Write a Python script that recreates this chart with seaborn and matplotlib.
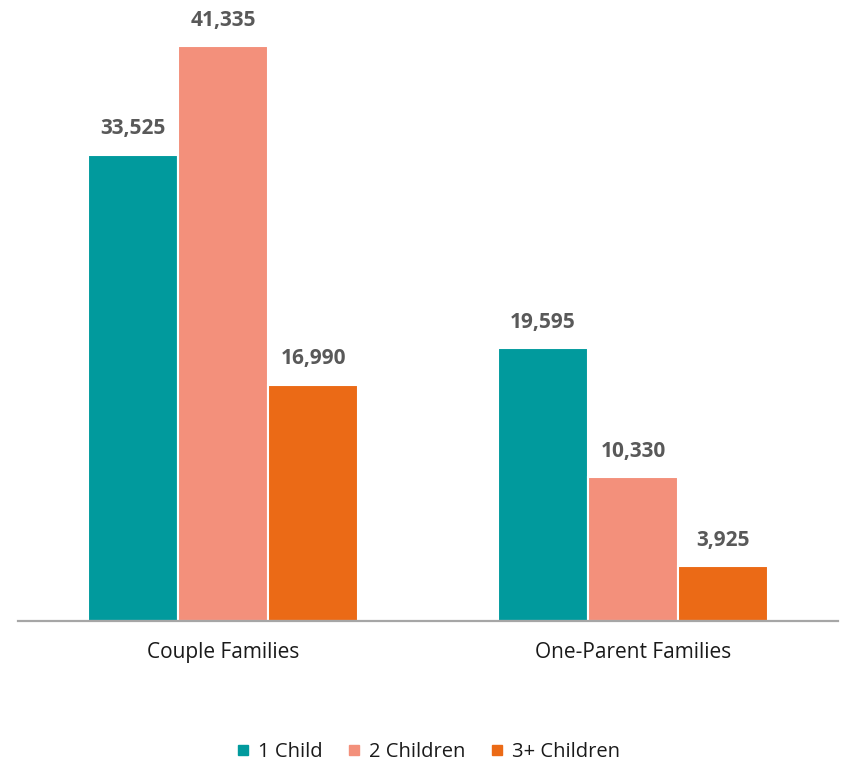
import matplotlib
matplotlib.use("Agg")
import matplotlib.pyplot as plt
import seaborn as sns
import pandas as pd
from matplotlib.lines import Line2D

categories = ["Couple Families", "One-Parent Families"]
series = ["1 Child", "2 Children", "3+ Children"]
one_child = [33525, 19595]
two_children = [41335, 10330]
three_plus = [16990, 3925]
colors = ["#019A9D", "#F3907B", "#EB6A16"]

rows = []
for s, vals in zip(series, [one_child, two_children, three_plus]):
    for c, v in zip(categories, vals):
        rows.append({"Family": c, "Children": s, "Count": v})
df = pd.DataFrame(rows)

sns.set_theme(style="white")
plt.rcParams['font.family'] = ['Open Sans', 'DejaVu Sans']

fig = plt.figure(figsize=(8.42, 7.64), dpi=100)
ax = fig.add_axes([18/842, 143/764, (838-18)/842, 621/764])
sns.barplot(data=df, x="Family", y="Count", hue="Children", order=categories,
            hue_order=series, palette=colors, width=0.66, saturation=1,
            edgecolor="white", linewidth=1.5, ax=ax, legend=False)

ax.set_xlim(-0.5, 1.5)
ax.set_ylim(0, 44640)
ax.set_yticks([])
ax.set_xlabel("")
ax.set_ylabel("")
for sp in ["left", "right", "top"]:
    ax.spines[sp].set_visible(False)
ax.spines["bottom"].set_color("#A6A6A6")
ax.spines["bottom"].set_linewidth(1.6)
ax.tick_params(axis="x", length=0, pad=15, labelsize=15, labelcolor="#1a1a1a")

for cont in ax.containers:
    ax.bar_label(cont, labels=[f"{v:,.0f}" for v in cont.datavalues],
                 padding=11, fontsize=15, fontweight="bold", color="#595959")

handles = [Line2D([], [], marker="s", linestyle="none", markersize=6.5,
                  markerfacecolor=c, markeredgecolor=c) for c in colors]
fig.legend(handles, series, loc="center", bbox_to_anchor=(429/842, 1 - 752/764),
           ncol=3, frameon=False, fontsize=14.5, handlelength=0.5,
           handletextpad=0.5, columnspacing=1.3, labelcolor="#1a1a1a")

fig.savefig("out.png", dpi=100)
